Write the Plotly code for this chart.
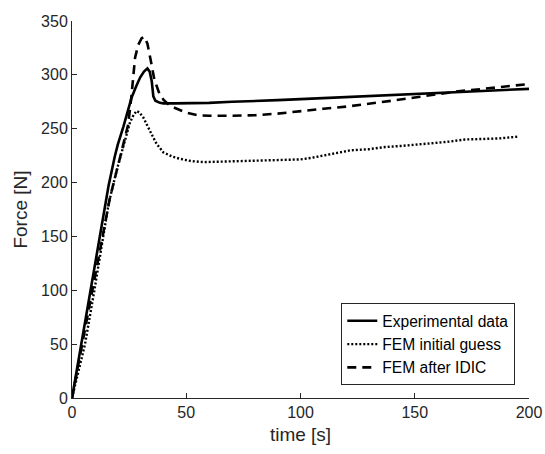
import plotly.graph_objects as go

# Experimental data
t_exp = [0, 4, 8, 12, 14.4, 16, 18.7, 20, 22.5, 24, 26.1, 28, 29.8, 31.5, 33, 34, 34.9, 35.6, 36.5, 38.5, 40, 45, 50,
         60, 70, 80, 90, 100, 110, 120, 130, 140, 150, 160, 170, 180, 190, 200]
f_exp = [0, 49, 100, 150, 179, 197, 224, 235, 252, 263, 279, 289, 297.5, 303, 306, 303, 294, 280, 276, 274, 273.5, 273.5, 273.5,
         274, 275, 275.5, 276.5, 277.5, 278.5, 279.5, 280.5, 281.5, 282.5, 283.5, 284.5, 285.5, 286, 287]

# FEM initial guess
t_init = [0, 5.7, 9.8, 13.7, 16, 19.5, 23.2, 25.4, 27, 28.3, 29.5, 31.2, 34.1, 37, 40, 44, 47.4, 52, 57.7,
          65, 72, 80, 90, 100, 105, 110, 115, 122, 130, 137, 144, 150, 155, 160, 165, 172, 180, 187, 195]
f_init = [0, 50, 100, 150, 180, 211, 239, 256, 263, 266.5, 265, 260.5, 248, 236, 228, 224, 222, 220, 219,
          219.5, 220, 220.5, 221, 221.5, 223, 225, 227, 230, 231, 233, 234, 235, 235.5, 237, 238, 240, 240.5, 241, 242.6]

# FEM after IDIC
t_idic = [0, 4, 8.8, 12, 16.6, 21, 24.6, 26, 27.6, 29, 30.5, 31.7, 33, 34.5, 36, 38, 40, 43, 46.5, 50, 55,
          60, 70, 80, 90, 100, 110, 120, 130, 140, 150, 160, 170, 180, 190, 200]
f_idic = [0, 45, 100, 137, 186, 223, 254, 280, 316, 328, 334, 335.5, 329, 313, 296, 284, 277, 271, 268, 265, 262.5,
          262, 262, 262.5, 264, 266.5, 268.5, 270.5, 273, 276, 279, 282, 285, 287, 289, 291.5]

x_ticks = [0, 50, 100, 150, 200]
y_ticks = [0, 50, 100, 150, 200, 250, 300, 350]

axis_col = "#262626"
font_fam = "Liberation Sans, Arial, sans-serif"

fig = go.Figure()
fig.add_trace(go.Scatter(x=t_exp, y=f_exp, mode="lines", name="Experimental data",
                         line=dict(color="black", width=2.6)))
fig.add_trace(go.Scatter(x=t_init, y=f_init, mode="lines", name="FEM initial guess",
                         line=dict(color="black", width=2.4, dash="2px,2px")))
fig.add_trace(go.Scatter(x=t_idic, y=f_idic, mode="lines", name="FEM after IDIC",
                         line=dict(color="black", width=2.6, dash="9px,6px")))

fig.update_layout(
    width=545, height=454,
    margin=dict(l=72, r=16, t=21, b=56),
    paper_bgcolor="white", plot_bgcolor="white",
    font=dict(family=font_fam, size=16, color=axis_col),
    showlegend=True,
    legend=dict(x=0.97, y=0.034, xanchor="right", yanchor="bottom",
                bgcolor="white", bordercolor=axis_col, borderwidth=1,
                font=dict(size=15.6, color="black"), tracegroupgap=0,
                itemwidth=30),
)
fig.update_xaxes(range=[0, 200], tickvals=x_ticks, ticks="inside", ticklen=5, tickcolor=axis_col,
                 showline=True, linecolor=axis_col, linewidth=1, showgrid=False, zeroline=False,
                 automargin=False,
                 title=dict(text="time [s]", standoff=7), mirror=False)
fig.update_yaxes(range=[0, 350], tickvals=y_ticks, ticks="inside", ticklen=5, tickcolor=axis_col,
                 showline=True, linecolor=axis_col, linewidth=1, showgrid=False, zeroline=False,
                 automargin=False,
                 title=dict(text="Force [N]", standoff=8), mirror=False)

fig.write_html("out.html")
